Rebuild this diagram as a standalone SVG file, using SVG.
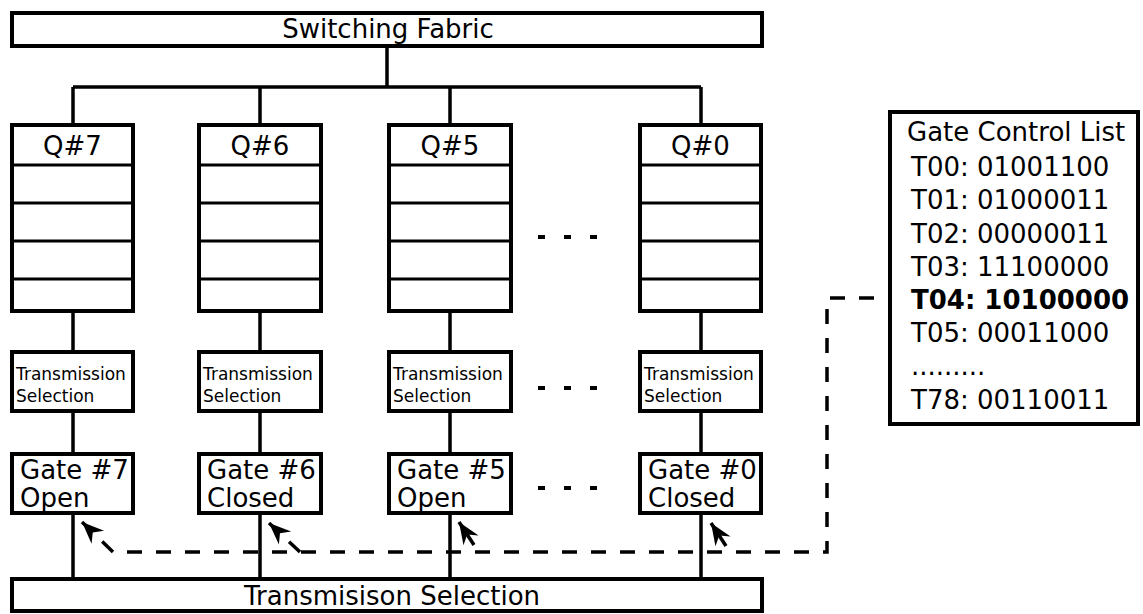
<svg xmlns="http://www.w3.org/2000/svg" width="1143" height="614" viewBox="0 0 1143 614">
<style>
  .box { fill: #fff; stroke: #000; stroke-width: 4; }
  .div { stroke: #000; stroke-width: 3; }
  .ln { stroke: #000; stroke-width: 3.5; fill: none; }
  .dash { stroke: #000; stroke-width: 3.5; fill: none; stroke-dasharray: 15 14; }
  .dots { stroke: #000; stroke-width: 4; stroke-dasharray: 7 19; }
  text { font-family: "DejaVu Sans", "Liberation Sans", sans-serif; fill: #000; }
  .big { font-size: 26px; }
  .sm { font-size: 17px; }
  .mid { text-anchor: middle; }
  .b { font-weight: bold; }
</style>
<defs>
  <marker id="ah" markerUnits="userSpaceOnUse" viewBox="-23 -10 24 20" markerWidth="24" markerHeight="20" refX="0" refY="0" orient="auto">
    <path d="M0,0 L-22,-9 L-15,0 L-22,9 Z" fill="#000"/>
  </marker>
</defs>

<g id="connectors">
  <path class="ln" d="M387,48 V87 M73,87 H701 M73,87 V123 M260,87 V123 M450,87 V123 M701,87 V123"/>
  <path class="ln" d="M73,313 V350 M260,313 V350 M450,313 V350 M701,313 V350"/>
  <path class="ln" d="M73,413 V452 M260,413 V452 M450,413 V452 M701,413 V452"/>
  <path class="ln" d="M73,515 V577 M260,515 V577 M450,515 V577 M701,515 V577"/>
  <path class="dash" d="M903,298 H827 V552 H113 L82,522" marker-end="url(#ah)"/>
  <path class="dash" d="M300,552 L269,523" marker-end="url(#ah)"/>
  <path class="ln" d="M474,545 L459,522" marker-end="url(#ah)"/>
  <path class="ln" d="M726,546 L711,523" marker-end="url(#ah)"/>
  <line class="dots" x1="538" y1="237" x2="598" y2="237"/>
  <line class="dots" x1="538" y1="388" x2="598" y2="388"/>
  <line class="dots" x1="538" y1="488" x2="598" y2="488"/>
</g>

<g id="switching-fabric">
  <rect class="box" x="12" y="13" width="750" height="33"/>
  <text class="big mid" x="388" y="38">Switching Fabric</text>
</g>

<g id="q7">
  <rect class="box" x="12" y="125" width="121" height="186"/>
  <path class="div" d="M12,165 H133 M12,203 H133 M12,241 H133 M12,279 H133"/>
  <text class="big mid" x="72.5" y="155">Q#7</text>
</g>
<g id="q6">
  <rect class="box" x="199" y="125" width="122" height="186"/>
  <path class="div" d="M199,165 H321 M199,203 H321 M199,241 H321 M199,279 H321"/>
  <text class="big mid" x="260" y="155">Q#6</text>
</g>
<g id="q5">
  <rect class="box" x="389" y="125" width="122" height="186"/>
  <path class="div" d="M389,165 H511 M389,203 H511 M389,241 H511 M389,279 H511"/>
  <text class="big mid" x="450" y="155">Q#5</text>
</g>
<g id="q0">
  <rect class="box" x="640" y="125" width="121" height="186"/>
  <path class="div" d="M640,165 H761 M640,203 H761 M640,241 H761 M640,279 H761"/>
  <text class="big mid" x="700.5" y="155">Q#0</text>
</g>

<g id="ts7">
  <rect class="box" x="12" y="352" width="121" height="59"/>
  <text class="sm" x="16" y="380">Transmission</text>
  <text class="sm" x="16" y="402">Selection</text>
</g>
<g id="ts6">
  <rect class="box" x="199" y="352" width="122" height="59"/>
  <text class="sm" x="203" y="380">Transmission</text>
  <text class="sm" x="203" y="402">Selection</text>
</g>
<g id="ts5">
  <rect class="box" x="389" y="352" width="122" height="59"/>
  <text class="sm" x="393" y="380">Transmission</text>
  <text class="sm" x="393" y="402">Selection</text>
</g>
<g id="ts0">
  <rect class="box" x="640" y="352" width="121" height="59"/>
  <text class="sm" x="644" y="380">Transmission</text>
  <text class="sm" x="644" y="402">Selection</text>
</g>

<g id="gate7">
  <rect class="box" x="12" y="454" width="121" height="59"/>
  <text class="big" x="20" y="479">Gate #7</text>
  <text class="big" x="20" y="507">Open</text>
</g>
<g id="gate6">
  <rect class="box" x="199" y="454" width="122" height="59"/>
  <text class="big" x="207" y="479">Gate #6</text>
  <text class="big" x="207" y="507">Closed</text>
</g>
<g id="gate5">
  <rect class="box" x="389" y="454" width="122" height="59"/>
  <text class="big" x="397" y="479">Gate #5</text>
  <text class="big" x="397" y="507">Open</text>
</g>
<g id="gate0">
  <rect class="box" x="640" y="454" width="121" height="59"/>
  <text class="big" x="648" y="479">Gate #0</text>
  <text class="big" x="648" y="507">Closed</text>
</g>

<g id="transmission-selection">
  <rect class="box" x="12" y="579" width="750" height="32"/>
  <text class="big mid" x="392" y="605">Transmisison Selection</text>
</g>

<g id="gate-control-list">
  <rect class="box" x="890" y="112" width="248" height="312"/>
  <text class="big" x="907" y="141">Gate Control List</text>
  <text class="big" x="911" y="176">T00: 01001100</text>
  <text class="big" x="911" y="209">T01: 01000011</text>
  <text class="big" x="911" y="243">T02: 00000011</text>
  <text class="big" x="911" y="276">T03: 11100000</text>
  <text class="big b" x="911" y="309">T04: 10100000</text>
  <text class="big" x="911" y="342">T05: 00011000</text>
  <text class="big" x="911" y="375">.........</text>
  <text class="big" x="911" y="409">T78: 00110011</text>
</g>
</svg>
